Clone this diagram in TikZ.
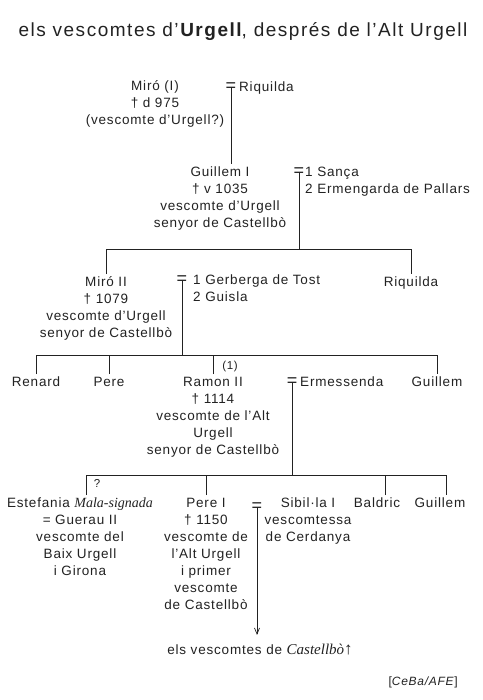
\documentclass[tikz,border=0pt]{standalone}
\usepackage{fontspec}
\setmainfont{Liberation Sans}[LetterSpace=6]
\newfontfamily\titlefont{Liberation Sans}[LetterSpace=8]
\newfontfamily\serifface{Liberation Serif}
\newcommand\seriftext[1]{{\serifface\itshape #1}}
\usetikzlibrary{arrows.meta}
\definecolor{ink}{HTML}{222222}
\begin{document}
\begin{tikzpicture}[x=1pt,y=-1pt,
  every node/.style={text=ink},
  person/.style={anchor=north, align=center, inner sep=0pt, font=\fontsize{13.5}{17}\selectfont},
  spouse/.style={anchor=north west, align=left, inner sep=0pt, font=\fontsize{13.5}{17}\selectfont},
  eqsign/.style={anchor=center, inner sep=0pt, font=\fontsize{18}{18}\selectfont},
  small/.style={anchor=center, inner sep=0pt, font=\fontsize{11.5}{13}\selectfont},
  conn/.style={draw=ink, line width=0.7pt}]
\useasboundingbox (0,0) rectangle (482,700);
\fill[white] (0,0) rectangle (482,700);

\node[anchor=base, inner sep=0pt, font=\titlefont\fontsize{19}{21}\selectfont] (title) at (243,36.5)
  {els vescomtes d’\textbf{Urgell}, després de l’Alt Urgell};

% generation 1
\node[person] (miro1) at (155,78) {\strut Miró (I)\\† d 975\\(vescomte d’Urgell?)};
\node[eqsign] (m1) at (231,87) {=};
\node[spouse] (riq1) at (239,79) {\strut Riquilda};

% generation 2
\node[person] (guillem1) at (220,164) {\strut Guillem I\\† v 1035\\vescomte d’Urgell\\senyor de Castellbò};
\node[eqsign] (m2) at (299,172) {=};
\node[spouse] (sanca) at (305,164) {\strut 1 Sança\\2 Ermengarda de Pallars};

% generation 3
\coordinate (h1) at (0,249);
\node[person] (miro2) at (106,274) {\strut Miró II\\† 1079\\vescomte d’Urgell\\senyor de Castellbò};
\node[person] (riq2) at (411,274) {\strut Riquilda};
\node[eqsign] (m3) at (182,280) {=};
\node[spouse] (gerberga) at (193,272) {\strut 1 Gerberga de Tost\\2 Guisla};

% generation 4
\coordinate (h2) at (0,355);
\node[person] (renard) at (36,374) {\strut Renard};
\node[person] (pere) at (109,374) {\strut Pere};
\node[person] (ramon) at (213,374) {\strut Ramon II\\† 1114\\vescomte de l’Alt\\Urgell\\senyor de Castellbò};
\node[small] (note1) at (230,367) {(1)};
\node[eqsign] (m4) at (292,382) {=};
\node[spouse] (ermes) at (300,374) {\strut Ermessenda};
\node[person] (guillem2) at (437,374) {\strut Guillem};

% generation 5
\coordinate (h3) at (0,475);
\node[small] (qmark) at (97,483) {?};
\node[person] (estef) at (80,495) {\strut Estefania \seriftext{\fontsize{14}{17}\selectfont Mala-signada}\\= Guerau II\\vescomte del\\Baix Urgell\\i Girona};
\node[person] (perei) at (206,495) {\strut Pere I\\† 1150\\vescomte de\\l’Alt Urgell\\i primer\\vescomte\\de Castellbò};
\node[eqsign] (m5) at (257,507) {=};
\node[person] (sibilla) at (308,495) {\strut Sibil·la I\\vescomtessa\\de Cerdanya};
\node[person] (baldric) at (377,495) {\strut Baldric};
\node[person] (guillem3) at (440,495) {\strut Guillem};

% bottom
\node[anchor=base, inner sep=0pt, font=\fontsize{13.5}{17}\selectfont] (bot) at (260,654)
  {\strut els vescomtes de \seriftext{\fontsize{15}{17}\selectfont Castellbò}{\fontsize{17}{17}\selectfont ↑}};
\coordinate (tip) at ([yshift=7pt]bot.north);
\node[anchor=base east, inner sep=0pt, font=\fontsize{12}{14}\selectfont] (src) at (458,685)
  {[\textit{CeBa/AFE}]};

% connectors
\draw[conn] (m1.center) -- (m1.center |- guillem1.north);
\draw[conn] (m2.center) -- (m2.center |- h1);
\draw[conn] (miro2.north) -- (miro2.north |- h1) -- (riq2.north |- h1) -- (riq2.north);
\draw[conn] (m3.center) -- (m3.center |- h2);
\draw[conn] (renard.north) -- (renard.north |- h2) -- (guillem2.north |- h2) -- (guillem2.north);
\draw[conn] (pere.north) -- (pere.north |- h2);
\draw[conn] (ramon.north) -- (ramon.north |- h2);
\draw[conn] (m4.center) -- (m4.center |- h3);
\draw[conn] ([xshift=6pt]estef.north) -- ([xshift=6pt]estef.north |- h3) -- ([xshift=6pt]guillem3.north |- h3) -- ([xshift=6pt]guillem3.north);
\draw[conn] (perei.north) -- (perei.north |- h3);
\draw[conn] ([xshift=8pt]baldric.north) -- ([xshift=8pt]baldric.north |- h3);
\draw[conn, -{Straight Barb[length=6pt,width=5pt]}] (m5.center) -- (m5.center |- tip);
\end{tikzpicture}
\end{document}
